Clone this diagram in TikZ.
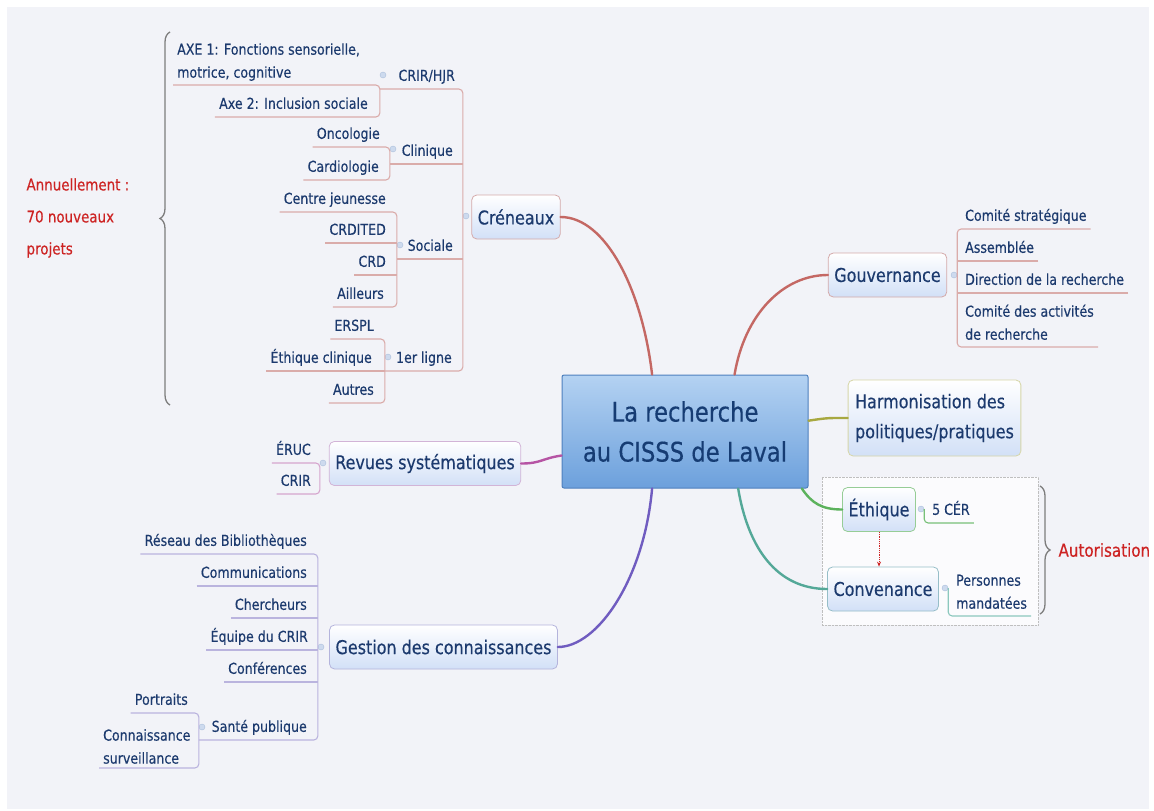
\documentclass[tikz,border=0pt]{standalone}
\usepackage{fontspec}
\setmainfont[FakeStretch=0.84, FakeBold=0.35]{DejaVu Sans}
\usetikzlibrary{decorations.pathreplacing, arrows.meta}

\definecolor{fond}{RGB}{242,243,248}
\definecolor{texte}{RGB}{28,58,110}
\definecolor{rouge}{RGB}{205,35,35}
\definecolor{gris}{RGB}{125,125,125}
\definecolor{boxbleu}{RGB}{210,224,247}
\definecolor{ctrHaut}{RGB}{180,210,242}
\definecolor{ctrBas}{RGB}{108,160,220}
\definecolor{ctrBord}{RGB}{78,128,190}
\definecolor{ctrTexte}{RGB}{22,60,115}
\definecolor{puceC}{RGB}{205,218,238}
\definecolor{puceD}{RGB}{170,190,220}
\definecolor{creL}{RGB}{196,104,100}
\definecolor{creS}{RGB}{218,172,170}
\definecolor{creB}{RGB}{212,170,170}
\definecolor{harmL}{RGB}{168,168,64}
\definecolor{harmB}{RGB}{214,214,168}
\definecolor{ethL}{RGB}{92,178,92}
\definecolor{ethS}{RGB}{120,192,120}
\definecolor{ethB}{RGB}{150,205,150}
\definecolor{convL}{RGB}{84,168,152}
\definecolor{convS}{RGB}{140,200,190}
\definecolor{convB}{RGB}{150,190,200}
\definecolor{gestL}{RGB}{112,92,192}
\definecolor{gestS}{RGB}{186,180,222}
\definecolor{gestB}{RGB}{180,180,220}
\definecolor{revL}{RGB}{182,84,164}
\definecolor{revS}{RGB}{214,166,206}
\definecolor{revB}{RGB}{210,180,215}

\begin{document}
\begin{tikzpicture}[x=1pt, y=-1pt, >=stealth,
  topic/.style={draw, line width=0.8pt, rounded corners=5pt, top color=white, bottom color=boxbleu,
    text=texte, font=\fontsize{19}{30}\selectfont, minimum height=44pt, inner xsep=6pt},
  leaf/.style={text=texte, font=\fontsize{15}{23}\selectfont, inner xsep=4pt, inner ysep=4pt,
    text height=11pt, text depth=4pt},
  leafml/.style={text=texte, font=\fontsize{15}{23}\selectfont, inner xsep=4pt, inner ysep=4pt, align=left},
  puce/.style={circle, fill=puceC, draw=puceD, line width=0.4pt, inner sep=0pt, minimum size=6pt},
  branche/.style={line width=2.4pt, line cap=round},
  sous/.style={line width=1.1pt, rounded corners=4pt},
  accolade/.style={draw=gris, line width=1.3pt, decorate, decoration={brace, amplitude=10pt}},
  note/.style={text=rouge, font=\fontsize{16}{32}\selectfont, align=left}]

  % --- 1. fond ---
  \fill[white] (0,0) rectangle (1154,811);
  \fill[fond] (7,7) rectangle (1149,809);
  \useasboundingbox (0,0) rectangle (1154,811);

  % --- 2. cadre du groupe Autorisation ---
  \node[draw=black!25, densely dotted, fill=white!70!fond, minimum width=216pt, minimum height=148pt] (grp) at (930,551) {};

  % --- 3. sujet central et sujets principaux ---
  \node[draw=ctrBord, line width=1pt, top color=ctrHaut, bottom color=ctrBas, rounded corners=2pt,
    minimum width=246pt, minimum height=113pt, text=ctrTexte, font=\fontsize{27}{40}\selectfont,
    align=center] (ctr) at (685,431.5) {La recherche\\au CISSS de Laval};

  \node[topic, draw=creB] (cre) at (516,217) {Créneaux};
  \node[topic, draw=creB] (gouv) at (887.5,275) {Gouvernance};
  \node[topic, draw=harmB, align=left, minimum height=76pt, inner xsep=7pt] (harm) at (934.5,418) {Harmonisation des\\politiques/pratiques};
  \node[topic, draw=ethB] (eth) at (879,509.5) {Éthique};
  \node[topic, draw=convB] (conv) at (883,589) {Convenance};
  \node[topic, draw=revB] (rev) at (425,463.5) {Revues systématiques};
  \node[topic, draw=gestB] (gest) at (443.5,647) {Gestion des connaissances};

  % --- 4. branches (courbes) ---
  \draw[branche, creL] (ctr.120) .. controls +(-10,-85) and +(45,0) .. (cre.east);
  \draw[branche, creL] (ctr.49) .. controls +(10,-60) and +(-45,0) .. (gouv.west);
  \draw[branche, harmL] (ctr.5) .. controls +(20,-3) and +(-20,0) .. (harm.west);
  \draw[branche, ethL] (ctr.334) .. controls +(10,15) and +(-20,0) .. (eth.west);
  \draw[branche, convL] (ctr.313) .. controls +(10,60) and +(-50,0) .. (conv.west);
  \draw[branche, gestL] (ctr.240) .. controls +(-8,90) and +(40,0) .. (gest.east);
  \draw[branche, revL] (ctr.191) .. controls +(-20,3) and +(20,0) .. (rev.east);

  % lien Éthique -> Convenance (pointillé)
  \draw[-{Stealth[length=5pt, width=4pt]}, densely dotted, rouge, line width=0.8pt] (eth.south) -- (eth.south |- conv.north);

  % --- 5. puces ---
  \node[puce] (creM) at (466,216) {};
  \node[puce] (crirM) at (383,75) {};
  \node[puce] (clinM) at (393,149) {};
  \node[puce] (socM) at (400,245) {};
  \node[puce] (ligneM) at (388,357) {};
  \node[puce] (gouvM) at (954,275) {};
  \node[puce] (ethM) at (921,509) {};
  \node[puce] (convM) at (945,588) {};
  \node[puce] (revM) at (323,463) {};
  \node[puce] (gestM) at (321,647) {};
  \node[puce] (santeM) at (202,727) {};

  % --- 6. Créneaux ---
  \node[leaf, anchor=south east] (crir) at (459,89) {CRIR/HJR};
  \node[leafml, anchor=south west] (axe1) at (173,85) {AXE 1: Fonctions sensorielle,\\motrice, cognitive};
  \node[leaf, anchor=south east] (axe2) at (372,117) {Axe 2: Inclusion sociale};
  \node[leaf, anchor=south east] (clin) at (457,164) {Clinique};
  \node[leaf, anchor=south east] (onco) at (384,147) {Oncologie};
  \node[leaf, anchor=south east] (cardio) at (383,180) {Cardiologie};
  \node[leaf, anchor=south east] (soc) at (457,259) {Sociale};
  \node[leaf, anchor=south east] (cj) at (390,212) {Centre jeunesse};
  \node[leaf, anchor=south east] (crdited) at (390,243) {CRDITED};
  \node[leaf, anchor=south east] (crd) at (390,275) {CRD};
  \node[leaf, anchor=south east] (ailleurs) at (388,307) {Ailleurs};
  \node[leaf, anchor=south east] (ligne) at (456,371) {1er ligne};
  \node[leaf, anchor=south east] (erspl) at (378,339) {ERSPL};
  \node[leaf, anchor=south east] (ethc) at (376,371) {Éthique clinique};
  \node[leaf, anchor=south east] (autres) at (378,403) {Autres};

  \draw[sous, creS] (crirM.west |- crir.south) -- (crir.south -| creM.west) -- (ligne.south -| creM.west) -- (ligneM.west |- ligne.south);
  \draw[sous, creS] (clinM.west |- clin.south) -- (clin.south -| creM.west);
  \draw[sous, creS] (socM.west |- soc.south) -- (soc.south -| creM.west);
  \draw[sous, creS] (axe1.south west) -- (axe1.south -| crirM.west) -- (axe2.south -| crirM.west) -- (axe2.south west);
  \draw[sous, creS] (onco.south west) -- (onco.south -| clinM.west) -- (cardio.south -| clinM.west) -- (cardio.south west);
  \draw[sous, creS] (cj.south west) -- (cj.south -| socM.west) -- (ailleurs.south -| socM.west) -- (ailleurs.south west);
  \draw[sous, creS] (crdited.south west) -- (crdited.south -| socM.west);
  \draw[sous, creS] (crd.south west) -- (crd.south -| socM.west);
  \draw[sous, creS] (erspl.south west) -- (erspl.south -| ligneM.west) -- (autres.south -| ligneM.west) -- (autres.south west);
  \draw[sous, creS] (ethc.south west) -- (ethc.south -| ligneM.west);

  % accolade gauche + note
  \coordinate (bH) at (170,32);
  \coordinate (bB) at (170,405);
  \draw[accolade] (bB) -- (bH);
  \node[note, anchor=west] (annuel) at (23,218) {Annuellement :\\70 nouveaux\\projets};

  % --- 7. Gouvernance ---
  \node[leaf, anchor=south west] (cs) at (961,229) {Comité stratégique};
  \node[leaf, anchor=south west] (ass) at (961,261) {Assemblée};
  \node[leaf, anchor=south west] (dir) at (961,293) {Direction de la recherche};
  \node[leafml, anchor=south west] (cda) at (961,347) {Comité des activités\\de recherche\vphantom{g}};

  \draw[sous, creS] (cs.south east) -- (cs.south -| gouvM.east) -- (cda.south -| gouvM.east) -- (cda.south east);
  \draw[sous, creS] (ass.south east) -- (ass.south -| gouvM.east);
  \draw[sous, creS] (dir.south east) -- (dir.south -| gouvM.east);

  % --- 8. Éthique / Convenance ---
  \node[leaf, anchor=south west] (cer) at (928,523) {5 CÉR};
  \node[leafml, anchor=south west] (pers) at (952,616) {Personnes\\mandatées\vphantom{g}};

  \draw[sous, ethS] (ethM.east) -- (ethM.east |- cer.south) -- (cer.south east);
  \draw[sous, convS] (convM.east) -- (convM.east |- pers.south) -- (pers.south east);

  % accolade droite + note
  \coordinate (aH) at (1040,486);
  \coordinate (aB) at (1040,614);
  \draw[accolade] (aH) -- (aB);
  \node[note, anchor=west, font=\fontsize{18}{24}\selectfont] (autor) at (1055,550) {Autorisation};

  % --- 9. Revues systématiques ---
  \node[leaf, anchor=south east] (eruc) at (315,463) {ÉRUC};
  \node[leaf, anchor=south east] (crir2) at (315,494) {CRIR};

  \draw[sous, revS] (eruc.south west) -- (eruc.south -| revM.west) -- (crir2.south -| revM.west) -- (crir2.south west);

  % --- 10. Gestion des connaissances ---
  \node[leaf, anchor=south east] (reseau) at (311,554) {Réseau des Bibliothèques};
  \node[leaf, anchor=south east] (comm) at (311,586) {Communications};
  \node[leaf, anchor=south east] (cherch) at (311,618) {Chercheurs};
  \node[leaf, anchor=south east] (equipe) at (312,650) {Équipe du CRIR};
  \node[leaf, anchor=south east] (conf) at (311,682) {Conférences};
  \node[leaf, anchor=south east] (sante) at (311,740) {Santé publique};
  \node[leaf, anchor=south east] (portr) at (192,713) {Portraits};
  \node[leafml, anchor=south west] (conn) at (99,768) {Connaissance\\surveillance};

  \draw[sous, gestS] (reseau.south west) -- (reseau.south -| gestM.west) -- (sante.south -| gestM.west) -- (santeM.west |- sante.south);
  \draw[sous, gestS] (comm.south west) -- (comm.south -| gestM.west);
  \draw[sous, gestS] (cherch.south west) -- (cherch.south -| gestM.west);
  \draw[sous, gestS] (equipe.south west) -- (equipe.south -| gestM.west);
  \draw[sous, gestS] (conf.south west) -- (conf.south -| gestM.west);
  \draw[sous, gestS] (portr.south west) -- (portr.south -| santeM.west) -- (conn.south -| santeM.west) -- (conn.south west);

\end{tikzpicture}
\end{document}
